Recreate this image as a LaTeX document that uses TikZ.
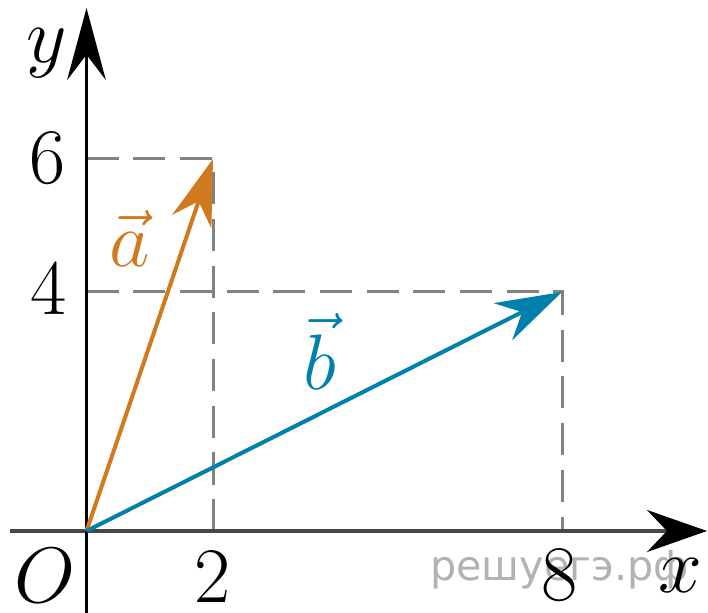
\RequirePackage{fix-cm}
\documentclass[tikz,border=0pt]{standalone}
\usepackage{fontspec}
\newfontfamily\wmfont{DejaVu Sans}
\usetikzlibrary{arrows.meta}
\definecolor{vecA}{RGB}{208,122,32}
\definecolor{vecB}{RGB}{0,128,170}
\definecolor{dashgray}{RGB}{130,130,130}
\definecolor{wmgray}{RGB}{178,178,178}
\begin{document}
\begin{tikzpicture}[x=0.75pt,y=-0.75pt,
  lbl/.style={inner sep=0pt,anchor=base,font=\fontsize{59pt}{61pt}\selectfont},
  dashline/.style={dashgray,line width=2.25pt,dash pattern=on 24pt off 11pt},
  vecline/.style={line width=3pt,-{Stealth[length=49.5pt,width=31pt,inset=16pt]}},
  axisline/.style={line width=2.6pt}]
\useasboundingbox (0,0) rectangle (708,613);
% coordinates
\coordinate (O) at (86.5,531);
\coordinate (A) at (213,159);
\coordinate (B) at (562,292);
\coordinate (Y6) at (86.5,159);
\coordinate (Y4) at (86.5,292);
\coordinate (X2) at (213,531);
\coordinate (X8) at (562,531);
\coordinate (xs) at (10,531);
\coordinate (xe) at (707,531);
\coordinate (ys) at (86.5,613);
\coordinate (ye) at (86.5,8);
% watermark
\node[inner sep=0pt,anchor=base west,text=wmgray,font=\wmfont\fontsize{31pt}{33pt}\selectfont] (wm) at (430,580) {решуегэ.рф};
% dashed guides
\draw[dashline] (Y6) -- (A) -- (X2);
\draw[dashline] (Y4) -- (B) -- (X8);
% axes
\draw[axisline,black!72,-{Stealth[length=45pt,width=31.5pt,inset=15pt,black]}] (xs) -- (xe);
\draw[axisline,black,-{Stealth[length=54pt,width=29pt,inset=19pt]}] (ys) -- (ye);
% vectors
\draw[vecline,vecA] (O) -- (A);
\draw[vecline,vecB] (O) -- (B);
% labels
\node[lbl] (ly) at (47,63) {$y$};
\node[lbl] (l6) at (48,184) {6};
\node[lbl] (l4) at (49,315) {4};
\node[lbl] (lO) at (45,602) {$O$};
\node[lbl] (l2) at (213,602) {2};
\node[lbl] (l8) at (560,600) {8};
\node[lbl] (lx) at (680,592) {$x$};
\node[lbl,text=vecA] (la) at (130,267) {$\vec{a}$};
\node[lbl,text=vecB] (lb) at (320,390) {$\vec{b}$};
\end{tikzpicture}
\end{document}
